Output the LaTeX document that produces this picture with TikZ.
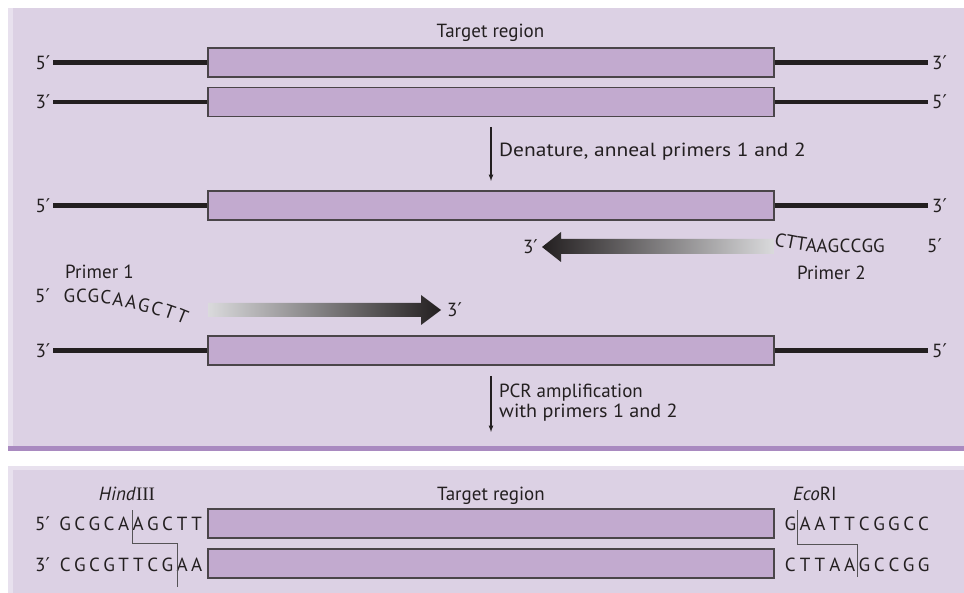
\documentclass[tikz,border=0pt]{standalone}
\usepackage{fontspec}
\setmainfont{PT Sans}
\newfontfamily\primefont{DejaVu Sans}
\newfontfamily\numeralfont{Liberation Serif}
\usepackage{tikz}
\usetikzlibrary{shapes,arrows,positioning}

\definecolor{panelbg}{HTML}{DCD1E4}
\definecolor{panelhi}{HTML}{E8E1EE}
\definecolor{panelrule}{HTML}{A98AC0}
\definecolor{regionfill}{HTML}{C2AACF}
\definecolor{regionedge}{HTML}{4A4549}
\definecolor{ink}{HTML}{231F20}
\definecolor{cutgrey}{HTML}{555356}
\definecolor{primerlight}{HTML}{DADADC}

\newcommand{\pr}{{\primefont\char"2032}}

\begin{document}
\begin{tikzpicture}[x=1pt,y=-1pt,font=\fontsize{19}{21}\selectfont,text=ink]
			\tikzstyle{Region}	= [rectangle, draw=regionedge, fill=regionfill, line width=1.3pt, minimum width=566pt, minimum height=29pt, inner sep=0pt]
			\tikzstyle{Strand}	= [line width=4.3pt, ink]
			\tikzstyle{End}		= [inner sep=0pt]
			\tikzstyle{Base}	= [inner sep=0pt, anchor=base]
			\tikzstyle{Flow}	= [-latex, line width=1.2pt, ink]
			\tikzstyle{Cut}		= [line width=1pt, cutgrey]
			
			% page and the two panels
			\useasboundingbox (0,0) rectangle (964,593);
			\fill [white] (0,0) rectangle (964,593);
			\fill [panelbg] (8,8) rectangle (964,451);
			\fill [panelhi] (8,8) rectangle (13,447);
			\fill [panelrule] (8,446) rectangle (964,451);
			\fill [panelbg] (8,466) rectangle (964,593);
			\fill [panelhi] (8,466) rectangle (964,470);
			\fill [panelhi] (8,466) rectangle (13,593);
			
			% template duplex
			\node (t1) at (491,62.5) [Region] {};
			\node (t2) at (491,102) [Region] {};
			\node (t3) at (491,205.5) [Region] {};
			\node (t4) at (491,350.5) [Region] {};
			\node (target) at (490.5,38) [Base] {Target region};
			
			\coordinate (s1l) at (53,62.5);	\coordinate (s1r) at (928,62.5);
			\coordinate (s2l) at (53,102);		\coordinate (s2r) at (928,102);
			\coordinate (s3l) at (53,205.5);	\coordinate (s3r) at (928,205.5);
			\coordinate (s4l) at (53,350.5);	\coordinate (s4r) at (928,350.5);
			
			\draw [-] (s1l) to (t1.west) [Strand];
			\draw [-] (t1.east) to (s1r) [Strand];
			\draw [-] (s2l) to (t2.west) [Strand];
			\draw [-] (t2.east) to (s2r) [Strand];
			\draw [-] (s3l) to (t3.west) [Strand];
			\draw [-] (t3.east) to (s3r) [Strand];
			\draw [-] (s4l) to (t4.west) [Strand];
			\draw [-] (t4.east) to (s4r) [Strand];
			
			\node (e1l) [End, left=2.5pt of s1l] {5\pr};
			\node (e1r) [End, right=4pt of s1r] {3\pr};
			\node (e2l) [End, left=2.5pt of s2l] {3\pr};
			\node (e2r) [End, right=4pt of s2r] {5\pr};
			\node (e3l) [End, left=2.5pt of s3l] {5\pr};
			\node (e3r) [End, right=4pt of s3r] {3\pr};
			\node (e4l) [End, left=2.5pt of s4l] {3\pr};
			\node (e4r) [End, right=4pt of s4r] {5\pr};
			
			% denature step
			\coordinate (d0) at (491,127);
			\coordinate (d1) at (491,181);
			\draw (d0) to (d1) [Flow];
			\node (denat) at (499,157) [Base, anchor=base west] {\scalebox{1.13}[1]{Denature, anneal primers 1 and 2}};
			
			% primer 2, extended to the left
			\shade [left color=ink, right color=primerlight]
				(774,239) -- (561,239) -- (561,232) -- (542,247) -- (561,262) -- (561,254) -- (774,254) -- cycle;
			\coordinate (p2tip) at (542,247);
			\node (p2end) [End, left=4pt of p2tip] {3\pr};
			\foreach \l/\px/\py/\r [count=\i] in {C/779/246.5/-14, T/790/248.5/-11, T/800.5/250.5/-8, A/811/252/-5, A/822/253/-2,
					G/833.5/253/0, C/845/253/0, C/856/253/0, G/867.5/253/0, G/879/253/0}
				\node (pb\i) at (\px,\py) [Base, rotate=\r] {\l};
			\node (p2five) at (927,253) [Base, anchor=base west] {5\pr};
			\node (p2name) at (797,280) [Base, anchor=base west] {Primer 2};
			
			% primer 1, extended to the right
			\shade [left color=primerlight, right color=ink]
				(208,303) -- (421,303) -- (421,295) -- (441,310) -- (421,325) -- (421,317) -- (208,317) -- cycle;
			\coordinate (p1tip) at (441,310);
			\node (p1end) [End, right=6pt of p1tip] {3\pr};
			\node (p1five) at (35,303) [Base, anchor=base west] {5\pr};
			\node (p1name) at (65,279) [Base, anchor=base west] {Primer 1};
			\foreach \l/\px/\py/\r [count=\i] in {G/69.5/303/0, C/81.5/303/0, G/93.5/303/0, C/105.5/304/-3, A/117.5/306/-7,
					A/130/308.5/-10, G/142.5/311.5/-13, C/155/315/-16, T/167.5/318.5/-19, T/180/322.5/-22}
				\node (pa\i) at (\px,\py) [Base, rotate=\r] {\l};
			
			% amplification step
			\coordinate (a0) at (491,376);
			\coordinate (a1) at (491,432);
			\draw (a0) to (a1) [Flow];
			\node (amp1) at (499,398) [Base, anchor=base west] {PCR amplification};
			\node (amp2) at (499,418) [Base, anchor=base west] {\scalebox{1.06}[1]{with primers 1 and 2}};
			
			% product with the new restriction sites
			\node (b1) at (491,523.5) [Region] {};
			\node (b2) at (491,563.5) [Region] {};
			\node (target2) at (491,500) [Base] {Target region};
			\node (hind) at (127,500) [Base] {\itshape Hind\/\upshape{\numeralfont III}};
			\node (eco) at (793,500) [Base, anchor=base west] {\itshape Eco\/\upshape RI};
			
			\node (f5) at (35,530) [Base, anchor=base west] {5\pr};
			\node (f3) at (35,571) [Base, anchor=base west] {3\pr};
			\foreach \l [count=\i from 0] in {G,C,G,C,A,A,G,C,T,T}
				\node (h5\i) at ({65.3+14.6*\i},530) [Base] {\l};
			\foreach \l [count=\i from 0] in {C,G,C,G,T,T,C,G,A,A}
				\node (h3\i) at ({65.3+14.6*\i},571) [Base] {\l};
			\foreach \l [count=\i from 0] in {G,A,A,T,T,C,G,G,C,C}
				\node (r5\i) at ({790.4+14.8*\i},530) [Base] {\l};
			\foreach \l [count=\i from 0] in {C,T,T,A,A,G,C,C,G,G}
				\node (r3\i) at ({790.4+14.8*\i},571) [Base] {\l};
			
			\draw [Cut] (132,510) |- (177,543) -- (177,587);
			\draw [Cut] (797.5,510) |- (857,544) -- (857,577);
			
		\end{tikzpicture}
\end{document}
